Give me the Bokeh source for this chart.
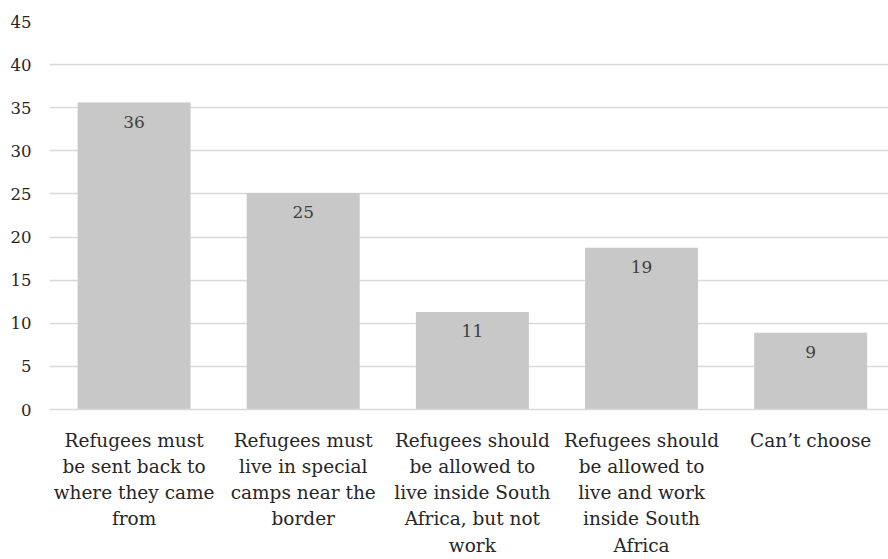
from bokeh.plotting import figure
from bokeh.models import ColumnDataSource, Range1d, FixedTicker, SingleIntervalTicker
from bokeh.core.properties import value
from bokeh.embed import file_html
from bokeh.resources import INLINE

categories = [
    "Refugees must\nbe sent back to\nwhere they came\nfrom",
    "Refugees must\nlive in special\ncamps near the\nborder",
    "Refugees should\nbe allowed to\nlive inside South\nAfrica, but not\nwork",
    "Refugees should\nbe allowed to\nlive and work\ninside South\nAfrica",
    "Can\u2019t choose",
]
values = [35.6, 25.1, 11.3, 18.75, 8.9]
labels = ["36", "25", "11", "19", "9"]

FONT = "DejaVu Serif"
xs = list(range(len(categories)))
src = ColumnDataSource(dict(x=xs, top=values, label=labels))

p = figure(width=888, height=559, output_backend="svg", toolbar_location=None,
           x_range=Range1d(-0.5, 4.46), y_range=Range1d(0, 45),
           frame_width=839, frame_height=388,
           min_border_left=49, min_border_right=0, min_border_top=21, min_border_bottom=150)
p.outline_line_color = None
p.background_fill_color = "white"
p.border_fill_color = "white"

p.vbar(x="x", top="top", bottom=0, width=0.668, source=src,
       fill_color="#c8c8c8", line_color=None)
p.text(x="x", y="top", text="label", source=src, text_align="center",
       text_baseline="top", y_offset=13, text_font=value(FONT),
       text_font_size="17px", text_color="#404040")

p.ygrid.ticker = SingleIntervalTicker(interval=5)
p.ygrid.grid_line_color = "#d9d9d9"
p.ygrid.grid_line_width = 1.5
p.xgrid.visible = False

p.yaxis.ticker = SingleIntervalTicker(interval=5)
p.yaxis.axis_line_color = None
p.yaxis.major_tick_line_color = None
p.yaxis.minor_tick_line_color = None
p.yaxis.major_label_text_font = FONT
p.yaxis.major_label_text_font_size = "16.5px"
p.yaxis.major_label_text_color = "#262626"
p.yaxis.major_label_standoff = 12

p.xaxis.ticker = FixedTicker(ticks=xs)
p.xaxis.major_label_overrides = {i: c for i, c in zip(xs, categories)}
p.xaxis.axis_line_color = "#d9d9d9"
p.xaxis.axis_line_width = 1.5
p.xaxis.major_tick_line_color = None
p.xaxis.minor_tick_line_color = None
p.xaxis.major_label_text_font = FONT
p.xaxis.major_label_text_font_size = "18.5px"
p.xaxis.major_label_text_color = "#262626"
p.xaxis.major_label_standoff = 14
p.xaxis.major_label_text_line_height = 1.25

open("out.html", "w").write(file_html(p, INLINE))
